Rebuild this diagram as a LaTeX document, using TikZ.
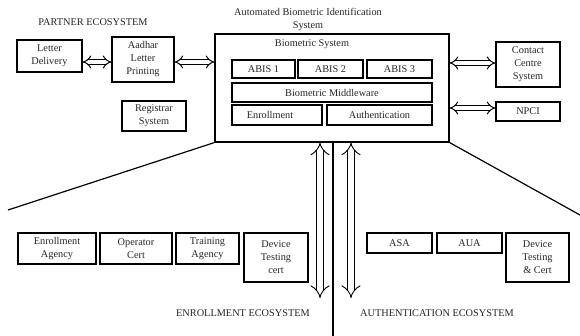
\documentclass[tikz,border=0pt]{standalone}
\usepackage{fontspec}
\setmainfont{Liberation Serif}
\usetikzlibrary{arrows.meta}
\begin{document}
\begin{tikzpicture}[x=1pt,y=-1pt,
  every node/.style={font=\fontsize{10.3}{13}\selectfont, text=black!85},
  box/.style={draw=black, line width=1.1pt, inner sep=1pt, align=center},
  lbl/.style={inner sep=0pt, align=center},
  dbl/.style={double, double distance=3.5pt, line width=1pt, {Implies[scale=1.5]}-{Implies[scale=1.5]}},
  vdbl/.style={double, double distance=6pt, line width=0.9pt, {Implies[scale=1.4]}-{Implies[scale=1.4]}},
  edge/.style={line width=1.2pt}]
\useasboundingbox (0,0) rectangle (580,336);

% titles
\node[lbl] (partner) at (93,22) {PARTNER ECOSYSTEM};
\node[lbl] (abistitle) at (308,19) {Automated Biometric Identification\\System};

% partner boxes
\node[box, minimum width=65pt, minimum height=32pt] (letter) at (49.5,56) {Letter\\Delivery};
\node[box, minimum width=62pt, minimum height=45pt] (aadhar) at (143,59.5) {Aadhar\\Letter\\Printing};
\node[box, minimum width=64pt, minimum height=30pt] (registrar) at (154,116) {Registrar\\System};

% central biometric system
\node[box, minimum width=234pt, minimum height=108pt] (main) at (332,88) {};
\node[lbl] (biosys) at (312,44) {Biometric System};
\node[box, minimum width=63pt, minimum height=18pt] (abis1) at (263.5,69) {ABIS 1};
\node[box, minimum width=65pt, minimum height=18pt] (abis2) at (330.5,69) {ABIS 2};
\node[box, minimum width=65pt, minimum height=18pt] (abis3) at (399.5,69) {ABIS 3};
\node[box, minimum width=200pt, minimum height=19pt] (mid) at (332,92.5) {Biometric Middleware};
\node[box, minimum width=90pt, minimum height=20pt] (enr) at (277,115) {Enrollment\hspace{14pt}};
\node[box, minimum width=105pt, minimum height=20pt] (auth) at (379.5,115) {Authentication};

% right side
\node[box, minimum width=64pt, minimum height=45pt] (contact) at (528,64.5) {Contact\\Centre\\System};
\node[box, minimum width=64pt, minimum height=19pt] (npci) at (528,111.5) {NPCI};

% enrollment ecosystem
\node[box, minimum width=78pt, minimum height=31pt] (enragency) at (57,248.5) {Enrollment\\Agency};
\node[box, minimum width=72pt, minimum height=31pt] (opcert) at (136,248.5) {Operator\\Cert};
\node[box, minimum width=63pt, minimum height=31pt] (training) at (207.5,248.5) {Training\\Agency};
\node[box, minimum width=64pt, minimum height=49pt] (devcert) at (276,257.5) {Device\\Testing\\cert};
\node[lbl] (enreco) at (243,313) {ENROLLMENT ECOSYSTEM};

% authentication ecosystem
\node[box, minimum width=65pt, minimum height=20pt] (asa) at (399.5,243) {ASA};
\node[box, minimum width=65pt, minimum height=20pt] (aua) at (469.5,243) {AUA};
\node[box, minimum width=63pt, minimum height=49pt] (devtest) at (537.5,257.5) {Device\\Testing\\\&~Cert};
\node[lbl] (autheco) at (437,313) {AUTHENTICATION ECOSYSTEM};

% horizontal links
\coordinate (ya) at (0,62);
\coordinate (yb) at (0,63);
\coordinate (yc) at (0,108);
\draw[dbl] (letter.east |- ya) -- (aadhar.west |- ya);
\draw[dbl] (aadhar.east |- ya) -- (main.west |- ya);
\draw[dbl] (main.east |- yb) -- (contact.west |- yb);
\draw[dbl] (main.east |- yc) -- (npci.west |- yc);

% vertical links to the ecosystems
\coordinate (va) at (320,298);
\coordinate (vb) at (351,298);
\draw[vdbl] (main.south -| va) -- (va);
\draw[vdbl] (main.south -| vb) -- (vb);

% dividing lines
\coordinate (dl) at (8,210);
\coordinate (dr) at (580,215);
\coordinate (dv) at (333,336);
\draw[edge] (main.south west) -- (dl);
\draw[edge] (main.south east) -- (dr);
\draw[edge] (main.south -| dv) -- (dv);
\end{tikzpicture}
\end{document}
